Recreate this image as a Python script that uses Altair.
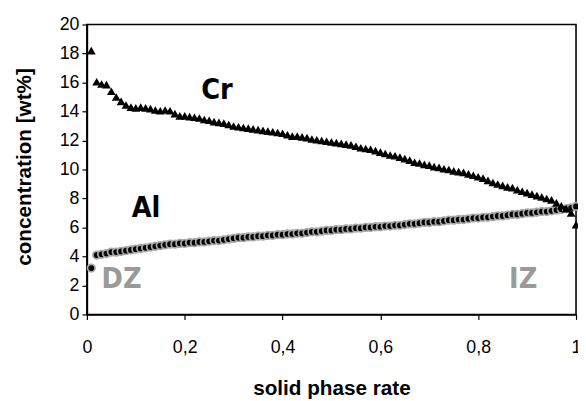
import altair as alt
import pandas as pd

rate = [0.009, 0.02, 0.03, 0.04, 0.05, 0.06, 0.07, 0.08, 0.09, 0.10,
        0.11, 0.12, 0.13, 0.14, 0.15, 0.16, 0.17, 0.18, 0.19, 0.20,
        0.21, 0.22, 0.23, 0.24, 0.25, 0.26, 0.27, 0.28, 0.29, 0.30,
        0.31, 0.32, 0.33, 0.34, 0.35, 0.36, 0.37, 0.38, 0.39, 0.40,
        0.41, 0.42, 0.43, 0.44, 0.45, 0.46, 0.47, 0.48, 0.49, 0.50,
        0.51, 0.52, 0.53, 0.54, 0.55, 0.56, 0.57, 0.58, 0.59, 0.60,
        0.61, 0.62, 0.63, 0.64, 0.65, 0.66, 0.67, 0.68, 0.69, 0.70,
        0.71, 0.72, 0.73, 0.74, 0.75, 0.76, 0.77, 0.78, 0.79, 0.80,
        0.81, 0.82, 0.83, 0.84, 0.85, 0.86, 0.87, 0.88, 0.89, 0.90,
        0.91, 0.92, 0.93, 0.94, 0.95, 0.96, 0.97, 0.98, 0.99, 1.00]

cr = [18.2, 16.05, 15.9, 15.85, 15.4, 15.0, 14.7, 14.45, 14.3, 14.25,
      14.3, 14.25, 14.2, 14.1, 14.05, 14.1, 14.05, 13.85, 13.7, 13.7,
      13.65, 13.6, 13.55, 13.45, 13.4, 13.3, 13.25, 13.2, 13.1, 13.0,
      12.95, 12.9, 12.85, 12.8, 12.75, 12.7, 12.65, 12.6, 12.55, 12.5,
      12.4, 12.3, 12.3, 12.25, 12.2, 12.1, 12.05, 12.0, 11.95, 11.9,
      11.85, 11.8, 11.75, 11.7, 11.6, 11.5, 11.45, 11.4, 11.3, 11.2,
      11.1, 11.0, 10.95, 10.85, 10.75, 10.65, 10.5, 10.45, 10.35, 10.3,
      10.2, 10.15, 10.05, 10.0, 9.9, 9.85, 9.8, 9.7, 9.6, 9.5,
      9.4, 9.25, 9.1, 9.0, 8.9, 8.8, 8.75, 8.6, 8.5, 8.4,
      8.3, 8.2, 8.1, 8.0, 7.9, 7.7, 7.5, 7.3, 7.0, 6.2]

al = [3.2, 4.1, 4.15, 4.2, 4.3, 4.3, 4.35, 4.4, 4.45, 4.5,
      4.55, 4.6, 4.65, 4.7, 4.75, 4.8, 4.85, 4.85, 4.9, 4.9,
      4.95, 4.95, 5.0, 5.0, 5.05, 5.1, 5.1, 5.15, 5.2, 5.25,
      5.3, 5.3, 5.35, 5.35, 5.4, 5.4, 5.45, 5.45, 5.5, 5.5,
      5.55, 5.55, 5.6, 5.6, 5.65, 5.7, 5.7, 5.75, 5.8, 5.8,
      5.85, 5.85, 5.9, 5.9, 5.95, 5.95, 6.0, 6.0, 6.05, 6.05,
      6.1, 6.1, 6.15, 6.15, 6.2, 6.25, 6.25, 6.3, 6.35, 6.35,
      6.4, 6.4, 6.45, 6.5, 6.5, 6.55, 6.55, 6.6, 6.65, 6.65,
      6.7, 6.7, 6.75, 6.8, 6.8, 6.85, 6.9, 6.9, 6.95, 7.0,
      7.0, 7.05, 7.1, 7.1, 7.15, 7.2, 7.25, 7.3, 7.35, 7.45]

x_ticks = [0, 0.2, 0.4, 0.6, 0.8, 1.0]
y_ticks = [0, 2, 4, 6, 8, 10, 12, 14, 16, 18, 20]

label_text = ["Cr", "Al", "DZ", "IZ"]
label_x = [0.266, 0.121, 0.071, 0.892]
label_y = [15.5, 7.35, 2.45, 2.45]
label_color = ["black", "black", "#9a9a9a", "#9a9a9a"]

df = pd.DataFrame({"rate": rate, "Cr": cr, "Al": al})
lab = pd.DataFrame({"t": label_text, "x": label_x, "y": label_y, "c": label_color})

x_scale = alt.Scale(domain=[0, 1], nice=False)
y_scale = alt.Scale(domain=[0, 20], nice=False)

x_axis = alt.Axis(values=x_ticks,
                  labelExpr="replace(format(datum.value, '.1~f'), '.', ',')",
                  title="solid phase rate", grid=False,
                  labelBaseline="alphabetic", labelPadding=34,
                  labelOverlap=False, labelFlush=False,
                  titleY=81, titleBaseline="alphabetic")
y_axis = alt.Axis(values=y_ticks, title="concentration [wt%]",
                  grid=False, labelPadding=3, labelOverlap=False, labelFlush=False,
                  titleX=-63, titleY=144,
                  titleAlign="center", titleBaseline="middle", titleAngle=-90)

al_layer = alt.Chart(df).mark_point(shape="circle", filled=True, fill="black",
                                     stroke="#a8a8a8", strokeWidth=1.8,
                                     size=58, opacity=1).encode(
    x=alt.X("rate:Q", scale=x_scale, axis=x_axis),
    y=alt.Y("Al:Q", scale=y_scale, axis=y_axis),
)

cr_layer = alt.Chart(df).mark_point(shape="triangle-up", filled=True, color="black",
                                     size=80, opacity=1).encode(
    x=alt.X("rate:Q", scale=x_scale, axis=x_axis),
    y=alt.Y("Cr:Q", scale=y_scale, axis=y_axis),
)

text_layer = alt.Chart(lab).mark_text(font="DejaVu Sans Condensed", fontWeight="bold",
                                      fontSize=29, align="center", baseline="middle").encode(
    x=alt.X("x:Q", scale=x_scale, axis=x_axis),
    y=alt.Y("y:Q", scale=y_scale, axis=y_axis),
    text="t:N",
    color=alt.Color("c:N", scale=None),
)

chart = alt.layer(al_layer, cr_layer, text_layer).properties(
    width=496, height=294,
    background="white",
    autosize=alt.AutoSizeParams(type="none"),
    padding={"left": 80, "top": 14, "right": 2, "bottom": 85},
).configure_view(stroke="black", strokeWidth=1.6).configure_axis(
    domainColor="black", domainWidth=1.6, tickColor="black", tickSize=5, tickWidth=1.2,
    labelFont="Liberation Sans", labelFontSize=18, labelColor="black",
    titleFont="Liberation Sans", titleFontSize=21, titleFontWeight="bold",
    titleColor="black",
)

chart.save("out.html", embed_options={"renderer": "svg", "actions": False})
